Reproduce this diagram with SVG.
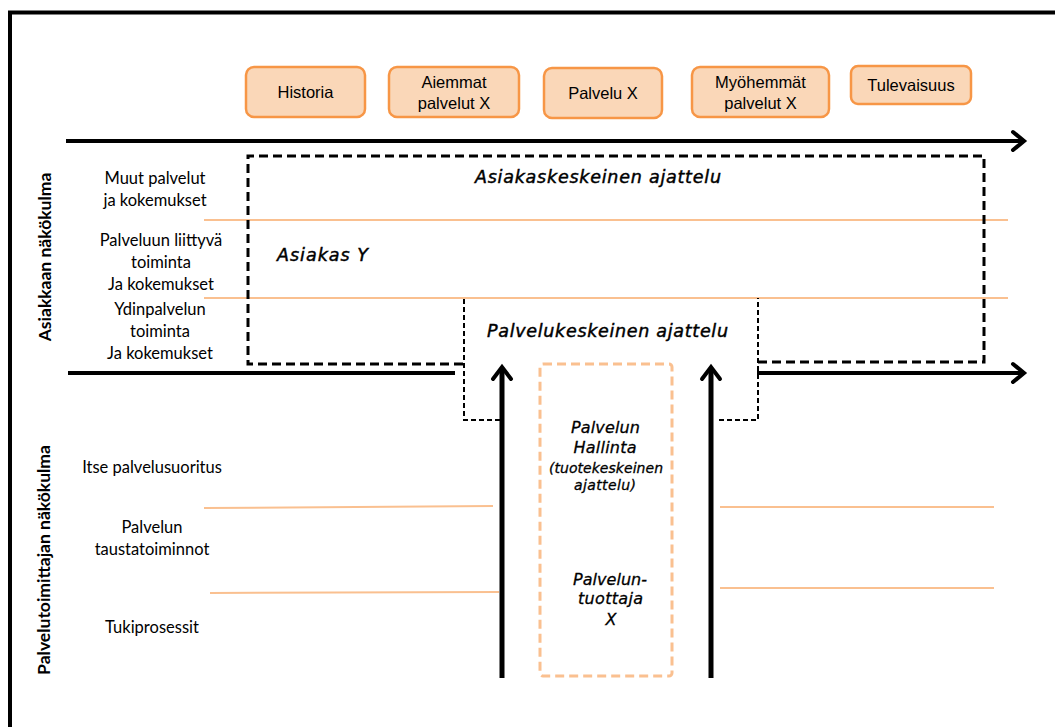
<svg xmlns="http://www.w3.org/2000/svg" width="1055" height="727" viewBox="0 0 1055 727">
  <style>
    .frame { fill: none; stroke: #000; stroke-width: 4; }
    .axis { fill: none; stroke: #000; stroke-width: 4; }
    .vaxis { fill: none; stroke: #000; stroke-width: 5; }
    .head { fill: none; stroke: #000; stroke-width: 4; stroke-linecap: round; stroke-linejoin: miter; }
    .band { fill: none; stroke: #FAC090; stroke-width: 2; }
    .zone { fill: none; stroke: #000; stroke-width: 3; stroke-dasharray: 9 5; }
    .zone-thin { fill: none; stroke: #000; stroke-width: 2; stroke-dasharray: 5 3; }
    .mgmt { fill: none; stroke: #FAC090; stroke-width: 3; stroke-dasharray: 9 5; }
    .phase rect { fill: #FAD7B8; stroke: #F79646; stroke-width: 2.5; }
    .phase text { font-family: "Liberation Sans Narrow", "Liberation Sans", Arial, sans-serif; font-size: 16.5px; fill: #000; text-anchor: middle; }
    .lane { font-family: Lato, "Liberation Sans", sans-serif; font-size: 16.5px; fill: #000; text-anchor: middle; }
    .side { font-family: Lato, "Liberation Sans", sans-serif; font-size: 17.5px; font-weight: bold; fill: #000; text-anchor: middle; }
    .think { font-family: "DejaVu Sans", Verdana, sans-serif; font-style: italic; font-size: 17.5px; fill: #000; stroke: #000; stroke-width: 0.45; text-anchor: middle; }
    .think-s { font-family: "DejaVu Sans", Verdana, sans-serif; font-style: italic; font-size: 16px; fill: #000; stroke: #000; stroke-width: 0.3; text-anchor: middle; }
    .think-xs { font-family: "DejaVu Sans", Verdana, sans-serif; font-style: italic; font-size: 14px; fill: #000; stroke: #000; stroke-width: 0.3; text-anchor: middle; }
  </style>

  <rect width="1055" height="727" fill="#fff"/>

  <!-- outer frame (top and left edges) -->
  <path class="frame" d="M10 727 V12.5 H1055"/>

  <!-- lane separators -->
  <g id="bands">
    <line class="band" x1="204" y1="220" x2="1008" y2="220"/>
    <line class="band" x1="204" y1="298" x2="1008" y2="298"/>
    <line class="band" x1="204" y1="508" x2="493" y2="506"/>
    <line class="band" x1="210" y1="593" x2="499" y2="592"/>
    <line class="band" x1="720" y1="507" x2="994" y2="507"/>
    <line class="band" x1="720" y1="588" x2="994" y2="588"/>
  </g>

  <!-- timeline phases -->
  <g id="phase-historia" class="phase">
    <rect x="246" y="67" width="119" height="50" rx="8"/>
    <text x="305.5" y="98">Historia</text>
  </g>
  <g id="phase-aiemmat" class="phase">
    <rect x="389" y="67" width="130" height="50" rx="8"/>
    <text x="454" y="88">Aiemmat</text>
    <text x="454" y="109">palvelut X</text>
  </g>
  <g id="phase-palvelu" class="phase">
    <rect x="544" y="68" width="118" height="50" rx="8"/>
    <text x="603" y="99">Palvelu X</text>
  </g>
  <g id="phase-myohemmat" class="phase">
    <rect x="692" y="67" width="137" height="50" rx="8"/>
    <text x="760.5" y="88">Myöhemmät</text>
    <text x="760.5" y="109">palvelut X</text>
  </g>
  <g id="phase-tulevaisuus" class="phase">
    <rect x="851" y="66" width="120" height="38" rx="7"/>
    <text x="911" y="91">Tulevaisuus</text>
  </g>

  <!-- customer-centred zone -->
  <g id="zone-asiakas">
    <path class="zone" d="M463 364 H248 V156 H984 V362 H758"/>
    <text class="think" x="598" y="182.5" textLength="246" lengthAdjust="spacing">Asiakaskeskeinen ajattelu</text>
    <text class="think" x="322.5" y="261" textLength="91" lengthAdjust="spacing">Asiakas Y</text>
  </g>

  <!-- service-centred zone -->
  <g id="zone-palvelu">
    <path class="zone-thin" d="M500 420 H464 V298"/>
    <path class="zone-thin" d="M719 420 H758 V298"/>
    <text class="think" x="607.5" y="337" textLength="241" lengthAdjust="spacing">Palvelukeskeinen ajattelu</text>
  </g>

  <!-- service management -->
  <g id="hallinta">
    <rect class="mgmt" x="540" y="364" width="132" height="312" rx="3"/>
    <text class="think-s" x="605.5" y="433" textLength="69" lengthAdjust="spacing">Palvelun</text>
    <text class="think-s" x="605" y="453" textLength="63" lengthAdjust="spacing">Hallinta</text>
    <text class="think-xs" x="606" y="473" textLength="114" lengthAdjust="spacing">(tuotekeskeinen</text>
    <text class="think-xs" x="605" y="490" textLength="62" lengthAdjust="spacing">ajattelu)</text>
    <text class="think-s" x="610" y="585" textLength="74" lengthAdjust="spacing">Palvelun-</text>
    <text class="think-s" x="610.5" y="604" textLength="65" lengthAdjust="spacing">tuottaja</text>
    <text class="think-s" x="611" y="625">X</text>
  </g>

  <!-- connectors / axes -->
  <g id="connectors">
    <line class="axis" x1="66" y1="141" x2="1023" y2="141"/>
    <path class="head" d="M1013 132 L1024 141 L1013 150"/>
    <line class="axis" x1="68" y1="373" x2="455" y2="373"/>
    <line class="axis" x1="757" y1="373" x2="1023" y2="373"/>
    <path class="head" d="M1013 364 L1024 373 L1013 382"/>
    <line class="vaxis" x1="502" y1="678" x2="502" y2="368"/>
    <path class="head" d="M493 379 L502 367 L511 379"/>
    <line class="vaxis" x1="711" y1="678" x2="711" y2="368"/>
    <path class="head" d="M702 379 L711 367 L720 379"/>
  </g>

  <!-- side headings -->
  <g id="side-asiakas">
    <text class="side" transform="translate(51 257) rotate(-90)">Asiakkaan näkökulma</text>
  </g>
  <g id="side-palvelu">
    <text class="side" transform="translate(50 560) rotate(-90)">Palvelutoimittajan näkökulma</text>
  </g>

  <!-- lane labels -->
  <g id="lane-muut">
    <text class="lane" x="155" y="184">Muut palvelut</text>
    <text class="lane" x="155" y="206">ja kokemukset</text>
  </g>
  <g id="lane-liittyva">
    <text class="lane" x="161" y="246">Palveluun liittyvä</text>
    <text class="lane" x="161" y="268">toiminta</text>
    <text class="lane" x="161" y="290">Ja kokemukset</text>
  </g>
  <g id="lane-ydin">
    <text class="lane" x="160" y="315">Ydinpalvelun</text>
    <text class="lane" x="160" y="337">toiminta</text>
    <text class="lane" x="160" y="359">Ja kokemukset</text>
  </g>
  <g id="lane-suoritus">
    <text class="lane" x="152" y="473">Itse palvelusuoritus</text>
  </g>
  <g id="lane-tausta">
    <text class="lane" x="152" y="533">Palvelun</text>
    <text class="lane" x="152" y="555">taustatoiminnot</text>
  </g>
  <g id="lane-tuki">
    <text class="lane" x="152" y="633">Tukiprosessit</text>
  </g>
</svg>
